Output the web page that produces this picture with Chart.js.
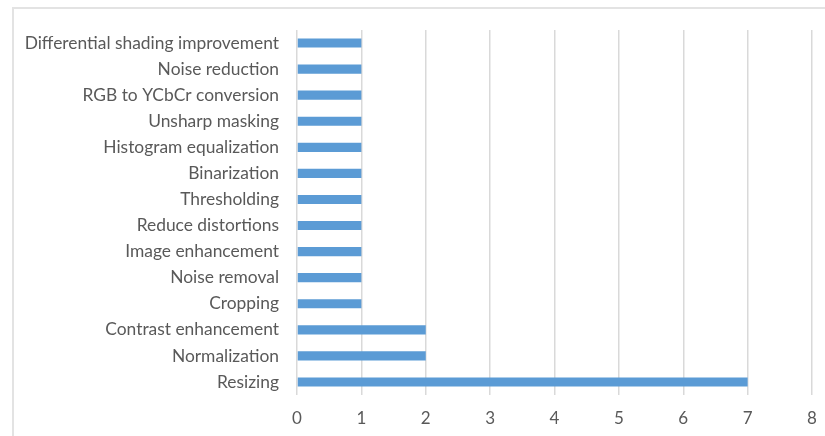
<!DOCTYPE html>
<html>
<head>
<meta charset="utf-8">
<script src="https://cdn.jsdelivr.net/npm/chart.js@4"></script>
<style>
    html, body { margin: 0; padding: 0; background: #fff; }
    #wrap { position: relative; width: 825px; height: 436px; }
    #frame {
        position: absolute; left: 12px; top: 7px; right: -2px; bottom: -2px;
        border-left: 2px solid #e3e3e3; border-top: 2px solid #e3e3e3;
    }
    canvas { position: absolute; left: 0; top: 0; }
</style>
</head>
<body>
<div id="wrap">
    <div id="frame"></div>
    <canvas id="methods" width="825" height="436"></canvas>
</div>
<script>
// Preprocessing methods, listed top to bottom
const methods = [
    "Differential shading improvement",
    "Noise reduction",
    "RGB to YCbCr conversion",
    "Unsharp masking",
    "Histogram equalization",
    "Binarization",
    "Thresholding",
    "Reduce distortions",
    "Image enhancement",
    "Noise removal",
    "Cropping",
    "Contrast enhancement",
    "Normalization",
    "Resizing"
]
const counts = [1, 1, 1, 1, 1, 1, 1, 1, 1, 1, 1, 2, 2, 7]
const axisMax = 8

function loadChart () {
    let ctx = document.getElementById("methods").getContext("2d")

    new Chart(ctx, {
        type: "bar",
        data: {
            labels: methods,
            datasets: [{
                data: counts,
                backgroundColor: "#5B9BD5",
                categoryPercentage: 1,
                barPercentage: 0.35
            }]
        },
        options: {
            indexAxis: "y",
            responsive: false,
            animation: false,
            layout: { padding: { top: 30, right: 13, bottom: 0, left: 0 } },
            plugins: {
                legend: { display: false },
                tooltip: { enabled: false }
            },
            scales: {
                x: {
                    min: 0,
                    max: axisMax,
                    ticks: { stepSize: 1, padding: 13, color: "#595959", font: { family: "Lato", size: 17 } },
                    grid: { color: "#d9d9d9", lineWidth: 1.5, drawTicks: false },
                    border: { display: false },
                    afterFit: (scale) => {
                        scale.height = 41
                        scale.paddingLeft = 0
                        scale.paddingRight = 0
                    }
                },
                y: {
                    ticks: { padding: 18, color: "#595959", font: { family: "Lato", size: 17.4 } },
                    grid: { display: false, drawTicks: false },
                    border: { display: false },
                    afterFit: (scale) => { scale.width = 297 }
                }
            }
        }
    })
}

loadChart()
</script>
</body>
</html>
